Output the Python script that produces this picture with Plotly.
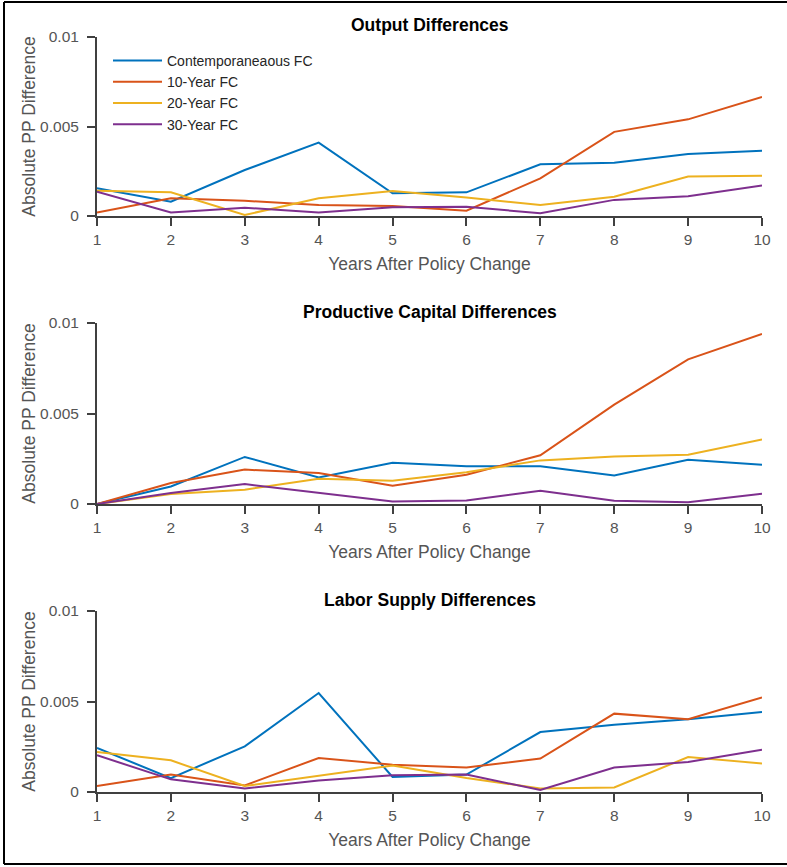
import plotly.graph_objects as go
from plotly.subplots import make_subplots

years = [1, 2, 3, 4, 5, 6, 7, 8, 9, 10]
series_names = ["Contemporaneaous FC", "10-Year FC", "20-Year FC", "30-Year FC"]
colors = ["#0072BD", "#D95319", "#EDB120", "#7E2F8E"]

panel_titles = ["Output Differences", "Productive Capital Differences", "Labor Supply Differences"]

output_contemp = [0.00155, 0.0008, 0.00257, 0.0041, 0.00127, 0.00132, 0.00289, 0.00298, 0.00346, 0.00365]
output_10yr = [0.0002, 0.00099, 0.00085, 0.00061, 0.00056, 0.0003, 0.0021, 0.0047, 0.0054, 0.00665]
output_20yr = [0.00141, 0.00132, 0.00006, 0.00099, 0.0014, 0.00104, 0.00061, 0.00108, 0.0022, 0.00225]
output_30yr = [0.00136, 0.0002, 0.00046, 0.0002, 0.00049, 0.00052, 0.00015, 0.0009, 0.0011, 0.0017]

capital_contemp = [0.0, 0.00097, 0.0026, 0.00147, 0.00228, 0.00208, 0.00208, 0.00158, 0.00245, 0.00217]
capital_10yr = [0.0, 0.00116, 0.0019, 0.00171, 0.00101, 0.00162, 0.00269, 0.00549, 0.00799, 0.00939]
capital_20yr = [0.0, 0.00055, 0.00079, 0.0014, 0.00129, 0.00175, 0.00241, 0.00263, 0.00272, 0.00357]
capital_30yr = [0.0, 0.00061, 0.0011, 0.00061, 0.00014, 0.0002, 0.00073, 0.00018, 0.0001, 0.00057]

labor_contemp = [0.00243, 0.00077, 0.00252, 0.00547, 0.00083, 0.00096, 0.00331, 0.00372, 0.00402, 0.00442]
labor_10yr = [0.00033, 0.00096, 0.00036, 0.00188, 0.00151, 0.00135, 0.00185, 0.00433, 0.00402, 0.00522]
labor_20yr = [0.00221, 0.00175, 0.00033, 0.00088, 0.00146, 0.00077, 0.0002, 0.00025, 0.00193, 0.00158]
labor_30yr = [0.00203, 0.0007, 0.0002, 0.00064, 0.00092, 0.00096, 0.00011, 0.00135, 0.00166, 0.00234]

y_ticks = [0, 0.005, 0.01]
y_tick_labels = ["0", "0.005", "0.01"]

panels = [
    [output_contemp, output_10yr, output_20yr, output_30yr],
    [capital_contemp, capital_10yr, capital_20yr, capital_30yr],
    [labor_contemp, labor_10yr, labor_20yr, labor_30yr],
]

W, H = 787, 867
ML, MR, MT, MB = 97, 25, 37, 75
plot_h = H - MT - MB
plot_w = W - ML - MR
panel_px = [(37, 216), (323, 504), (611, 792)]

def py2paper(py):
    return 1 - (py - MT) / plot_h

def px2paper(px):
    return (px - ML) / plot_w

fig = make_subplots(rows=3, cols=1)

for i, data in enumerate(panels):
    for j, vals in enumerate(data):
        fig.add_trace(go.Scatter(
            x=years, y=vals, mode="lines", name=series_names[j],
            line=dict(color=colors[j], width=2),
            showlegend=(i == 0), hoverinfo="skip",
        ), row=i + 1, col=1)

axis_color = "#404040"
label_color = "#555555"
font_family = "Liberation Sans, Arial, sans-serif"

for i in range(3):
    top, bot = panel_px[i]
    dom = [py2paper(bot), py2paper(top)]
    xa = "xaxis" if i == 0 else f"xaxis{i+1}"
    ya = "yaxis" if i == 0 else f"yaxis{i+1}"
    fig.layout[xa].update(
        domain=[0, 1], range=[1, 10], tickmode="array", tickvals=years,
        ticktext=[str(y) for y in years],
        showline=True, linecolor=axis_color, linewidth=2,
        ticks="outside", ticklen=8, tickwidth=2, tickcolor=axis_color,
        ticklabelstandoff=0,
        showgrid=False, zeroline=False,
        tickfont=dict(size=15.5, color=label_color, family=font_family),
        title=dict(text="Years After Policy Change", standoff=11,
                   font=dict(size=17.5, color=label_color, family=font_family)),
    )
    fig.layout[ya].update(
        domain=dom, range=[0, 0.01], tickmode="array", tickvals=y_ticks,
        ticktext=y_tick_labels,
        showline=True, linecolor=axis_color, linewidth=2,
        ticks="outside", ticklen=8, tickwidth=2, tickcolor=axis_color,
        ticklabelstandoff=5,
        showgrid=False, zeroline=False,
        tickfont=dict(size=15.5, color=label_color, family=font_family),
        title=dict(text="Absolute PP Difference", standoff=0,
                   font=dict(size=17.5, color=label_color, family=font_family)),
    )
    title_py = [25, 312, 600][i]
    fig.add_annotation(
        text=f"<b>{panel_titles[i]}</b>", xref="paper", yref="paper",
        x=0.5, y=py2paper(title_py), xanchor="center", yanchor="middle",
        showarrow=False, font=dict(size=17.5, color="black", family=font_family),
    )

# outer frame: left, top and bottom edges (right edge is outside the picture)
frame = dict(color="black", width=2)
x_left, x_right = px2paper(4), px2paper(790)
y_top, y_bot = py2paper(2), py2paper(864)
fig.add_shape(type="line", xref="paper", yref="paper", x0=x_left, x1=x_left, y0=y_bot, y1=y_top, line=frame)
fig.add_shape(type="line", xref="paper", yref="paper", x0=x_left, x1=x_right, y0=y_top, y1=y_top, line=frame)
fig.add_shape(type="line", xref="paper", yref="paper", x0=x_left, x1=x_right, y0=y_bot, y1=y_bot, line=frame)

fig.update_layout(
    width=W, height=H,
    margin=dict(l=ML, r=MR, t=MT, b=MB),
    paper_bgcolor="white", plot_bgcolor="white",
    font=dict(family=font_family),
    legend=dict(
        x=px2paper(108), y=py2paper(45), xanchor="left", yanchor="top",
        bgcolor="rgba(255,255,255,0)", borderwidth=0,
        font=dict(size=14, color="#262626", family=font_family),
        itemwidth=49, tracegroupgap=0,
    ),
)

fig.write_html("out.html", config={"displayModeBar": False},
               post_script="document.documentElement.style.margin='0';document.documentElement.style.overflow='hidden';document.body.style.margin='0';document.body.style.overflow='hidden';")
